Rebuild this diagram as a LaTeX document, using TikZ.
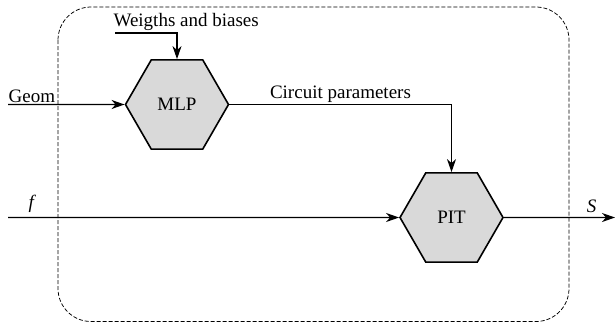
\documentclass[tikz,border=0pt]{standalone}
\usepackage{fontspec}
\setmainfont{Liberation Serif}
\usetikzlibrary{arrows.meta,positioning,shapes.geometric}
\definecolor{hexfill}{RGB}{217,217,217}

\begin{document}
\begin{tikzpicture}[x=1pt,y=-1pt,
	font=\fontsize{19}{22}\selectfont,
	block/.style={regular polygon,regular polygon sides=6,minimum size=103pt,inner sep=0pt,draw,line width=1.6pt,fill=hexfill},
	label/.style={inner sep=1.5pt},
	flow/.style={->,>={Stealth[length=13pt,width=9pt,inset=4pt]},line width=1.2pt}]
\useasboundingbox (0,0) rectangle (615,322);

\draw[dash pattern=on 4pt off 2pt,line width=0.75pt,rounded corners=33pt] (58,7) rectangle (569,321.5);

\node[block] (mlp) at (177,104.5) {MLP};
\node[block] (pit) at (451.5,217.5) {PIT};

\coordinate (geom) at (8,104.5);
\coordinate (wb) at (115,33);
\coordinate (fin) at (8,217.5);
\coordinate (sout) at (615,217.5);

\draw[flow] (geom) -- node[label,pos=0,anchor=south west,inner xsep=0pt] {Geom} (mlp.west);
\draw[flow] (wb) node[label,anchor=south west,inner xsep=0pt,xshift=-2pt] {Weigths and biases} -| (mlp.north);
\draw[flow] (mlp.east) -| node[label,pos=0.25,above] {Circuit parameters} (pit.north);
\draw[flow] (fin) -- node[pos=0.062,above,inner sep=4pt] {\textit{f}} (pit.west);
\draw[flow] (pit.east) -- node[pos=0.79,above,inner sep=4pt] {\textit{S}} (sout);

\end{tikzpicture}
\end{document}
